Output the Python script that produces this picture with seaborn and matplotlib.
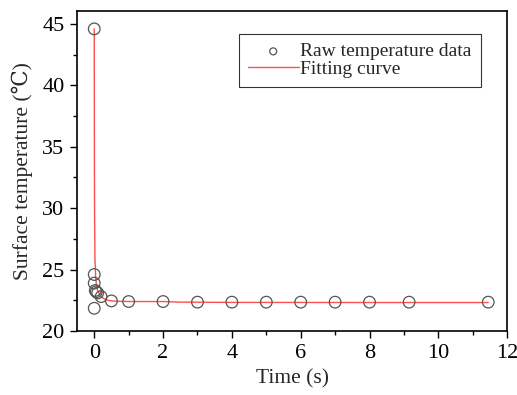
import matplotlib

matplotlib.use('Agg')
import numpy as np
import pandas as pd
import matplotlib.pyplot as plt
import seaborn as sns
from matplotlib.ticker import MultipleLocator

raw_time = [0.0, 0.0, 0.0, 0.0, 0.03, 0.06, 0.1, 0.2, 0.5, 1.0, 2.0, 3.0, 4.0, 5.0, 6.0, 7.0, 8.0, 9.15, 11.45]
raw_temp = [44.6, 24.6, 23.9, 21.85, 23.3, 23.2, 23.1, 22.8, 22.45, 22.4, 22.4, 22.35, 22.35, 22.35, 22.35, 22.35, 22.35, 22.35, 22.35]

# Fitted curve, sampled by eye
fit_time = [0.0, 0.005, 0.01, 0.02, 0.04, 0.07, 0.1, 0.15, 0.2, 0.3, 0.4, 0.5, 0.7, 1.0, 2.0, 2.5, 4.0, 8.0, 11.45]
fit_temp = [44.6, 34.0, 29.5, 26.0, 24.4, 23.6, 23.3, 23.0, 22.8, 22.6, 22.5, 22.45, 22.42, 22.4, 22.4, 22.35, 22.33, 22.32, 22.32]

raw_df = pd.DataFrame({'time': raw_time, 'temp': raw_temp})
fit_df = pd.DataFrame({'time': fit_time, 'temp': fit_temp})

sns.set_style('ticks')
plt.rcParams['font.family'] = ['Liberation Serif', 'DejaVu Serif']

fig, ax = plt.subplots(figsize=(5.17, 3.95), dpi=100)
fig.subplots_adjust(left=0.149, right=0.981, top=0.972, bottom=0.162)

sns.lineplot(data=fit_df, x='time', y='temp', color='#ff5050', linewidth=1.0, ax=ax,
             label='Fitting curve', sort=False)
sns.scatterplot(data=raw_df, x='time', y='temp', marker='o', s=70, facecolor='none',
                edgecolor='#555555', linewidth=0.9, ax=ax, label='Raw temperature data', zorder=3)

ax.set_xlim(-0.5, 12)
ax.set_ylim(20, 46.05)
ax.xaxis.set_major_locator(MultipleLocator(2))
ax.xaxis.set_minor_locator(MultipleLocator(1))
ax.yaxis.set_major_locator(MultipleLocator(5))
ax.yaxis.set_minor_locator(MultipleLocator(2.5))
ax.tick_params(which='major', length=5, width=1, labelsize=16, pad=4, color='black', labelcolor='black')
ax.tick_params(which='minor', length=3, width=1, color='black')
for side in ['left', 'bottom', 'right', 'top']:
    ax.spines[side].set_visible(True)
    ax.spines[side].set_color('black')
    ax.spines[side].set_linewidth(1.2)

ax.set_xlabel('Time (s)', fontsize=15.5, labelpad=5)
ax.set_ylabel('Surface temperature (℃)', fontsize=15.5, labelpad=7)

handles, labels = ax.get_legend_handles_labels()
leg = ax.legend(handles[::-1], labels[::-1], loc='upper left', bbox_to_anchor=(0.377, 0.928),
                fontsize=14, frameon=True, fancybox=False, edgecolor='black', markerscale=0.6,
                borderpad=0.45, borderaxespad=0, handlelength=2.6, handletextpad=0.1,
                labelspacing=0.0)
leg.get_frame().set_linewidth(0.8)

fig.savefig('out.png', dpi=100)
plt.close()
